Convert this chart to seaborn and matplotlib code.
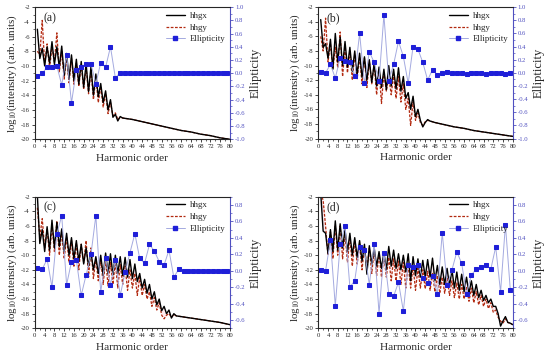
import numpy as np
import matplotlib
matplotlib.use("Agg")
import matplotlib.pyplot as plt
from matplotlib.ticker import MultipleLocator, FormatStrFormatter
from matplotlib.lines import Line2D
import seaborn as sns

# =============================================================
# DATA
# =============================================================
# panel (a)
orders_a = list(range(1, 37)) + [40, 44, 48, 52, 56, 60, 64, 68, 72, 76, 80]
hhgx_a = [-5.0, -9.0, -7.6, -10.0, -7.4, -9.6, -6.7, -9.8, -7.4, -10.2,
          -7.3, -11.3, -8.3, -11.8, -8.5, -12.0, -9.1, -12.5, -9.4, -12.9,
          -9.7, -13.5, -10.1, -14.0, -11.1, -14.2, -12.4, -15.0, -13.4, -16.0,
          -14.6, -17.0, -16.6, -17.5, -16.9, -17.1,
          -17.3, -17.6, -17.9, -18.2, -18.5, -18.8, -19.0, -19.3, -19.5, -19.8, -20.0]
hhgy_a = [-8.0, -8.5, -3.8, -9.8, -7.0, -10.3, -7.5, -9.5, -5.5, -10.8,
          -8.0, -11.8, -8.8, -12.3, -9.0, -12.5, -9.6, -12.8, -9.8, -13.2,
          -10.2, -13.8, -10.6, -14.6, -11.6, -15.0, -12.8, -15.6, -13.8, -16.5,
          -15.0, -16.8, -16.4, -17.3, -17.0, -17.1,
          -17.3, -17.6, -17.9, -18.2, -18.5, -18.8, -19.0, -19.3, -19.5, -19.8, -20.0]
ell_a = [-0.04, 0.00, 0.09, 0.09, 0.11, -0.18, 0.28, -0.45, 0.05, 0.10,
         0.14, 0.14, -0.16, 0.16, 0.09, 0.40, -0.07, 0.01, 0.01, 0.00,
         0.00, 0.00, 0.00, 0.00, 0.00, 0.00, 0.00, 0.00, 0.00, 0.00,
         0.00, 0.00, 0.00, 0.00, 0.00, 0.00, 0.00, 0.00, 0.00, 0.00]

# panel (b)
orders_b = list(range(1, 47)) + [48, 52, 56, 60, 64, 68, 72, 76, 80]
hhgx_b = [-3.7, -7.5, -7.0, -9.0, -6.4, -10.5, -5.6, -9.5, -6.1, -10.0,
          -6.7, -10.2, -7.5, -10.8, -8.0, -11.2, -8.3, -11.6, -8.8, -12.0,
          -9.2, -12.3, -9.7, -12.8, -10.2, -13.0, -10.5, -13.3, -10.0, -12.8,
          -10.5, -13.2, -10.3, -13.5, -11.5, -14.5, -13.7, -16.0, -14.2, -17.0,
          -16.0, -17.5, -18.4, -17.8, -17.4, -17.6,
          -17.8, -18.1, -18.4, -18.6, -18.9, -19.1, -19.3, -19.5, -19.7]
hhgy_b = [-6.0, -8.0, -3.5, -9.5, -7.0, -10.5, -7.5, -10.3, -5.4, -11.5,
          -7.5, -11.0, -8.0, -12.0, -8.5, -11.8, -8.8, -12.5, -9.0, -13.0,
          -9.3, -12.5, -9.8, -14.0, -10.5, -15.2, -11.0, -13.5, -11.5, -14.0,
          -11.2, -14.5, -11.5, -15.0, -12.5, -16.0, -14.5, -18.2, -15.0, -17.5,
          -16.5, -17.8, -18.2, -17.7, -17.5, -17.6,
          -17.8, -18.1, -18.4, -18.6, -18.9, -19.1, -19.3, -19.5, -19.7]
ell_b = [0.01, 0.00, 0.13, -0.08, 0.23, 0.18, 0.17, -0.05, 0.60, -0.16,
         0.32, 0.16, -0.12, 0.88, -0.12, 0.13, 0.48, 0.25, -0.16, 0.40,
         0.36, 0.16, -0.11, 0.05, -0.03, 0.00, 0.01, 0.00, 0.00, 0.00,
         -0.01, 0.00, 0.00, 0.00, -0.01, 0.00, 0.00, 0.00, -0.01, 0.00]

# panel (c)
orders_c = list(range(1, 59)) + [60, 64, 68, 72, 76, 80]
hhgx_c = [-1.8, -8.4, -6.5, -9.5, -6.1, -9.3, -5.2, -9.0, -5.5, -8.8,
          -6.4, -9.5, -7.0, -10.0, -7.6, -10.5, -8.0, -10.8, -8.5, -11.2,
          -9.0, -11.5, -9.6, -12.0, -10.2, -12.5, -10.0, -12.8, -9.7, -12.5,
          -9.8, -12.7, -10.0, -12.5, -10.2, -12.8, -10.3, -13.0, -10.6, -13.2,
          -11.2, -13.6, -12.5, -14.5, -13.3, -15.2, -14.0, -16.0, -15.0, -16.8,
          -16.0, -17.6, -17.0, -18.0, -17.5, -18.6, -18.0, -18.3,
          -18.4, -18.6, -18.8, -19.0, -19.2, -19.5]
hhgy_c = [-3.5, -7.5, -5.0, -9.0, -6.5, -10.0, -6.0, -9.5, -5.3, -10.0,
          -6.8, -10.5, -7.5, -11.0, -8.0, -11.5, -8.3, -12.0, -8.5, -11.0,
          -8.0, -13.0, -9.0, -13.2, -10.5, -13.5, -10.5, -14.0, -10.5, -14.2,
          -11.0, -14.0, -11.0, -14.5, -11.3, -14.0, -11.5, -14.8, -12.0, -14.5,
          -12.5, -15.5, -13.0, -15.5, -14.0, -16.0, -15.0, -17.0, -15.8, -17.5,
          -16.5, -18.2, -18.7, -18.2, -18.0, -18.5, -18.1, -18.3,
          -18.4, -18.6, -18.8, -19.0, -19.2, -19.5]
ell_c = [0.03, 0.02, 0.14, -0.20, 0.45, 0.67, -0.17, 0.11, 0.13, -0.30,
         -0.05, 0.20, 0.67, -0.26, 0.16, -0.17, 0.13, -0.30, -0.02, 0.22,
         0.45, 0.15, 0.09, 0.32, 0.24, 0.11, 0.07, 0.25, -0.08, 0.02,
         0.00, 0.00, 0.00, 0.00, 0.00, 0.00, 0.00, 0.00, 0.00, 0.00]

# panel (d)
orders_d = list(range(1, 81))
hhgx_d = [-1.5, -6.7, -7.0, -9.8, -6.5, -9.5, -5.3, -9.3, -5.7, -9.0,
          -6.5, -9.5, -7.0, -10.0, -7.6, -10.3, -8.0, -10.8, -8.5, -12.6,
          -8.7, -11.2, -9.0, -11.5, -9.5, -11.8, -9.6, -12.0, -8.8, -11.5,
          -9.3, -11.8, -9.8, -12.0, -10.0, -12.3, -9.8, -13.5, -10.2, -12.8,
          -10.5, -13.0, -10.7, -13.0, -10.6, -13.0, -10.4, -13.5, -11.4, -14.0,
          -11.6, -14.0, -11.8, -14.2, -12.0, -14.5, -12.3, -14.8, -12.6, -15.0,
          -13.0, -15.2, -13.5, -15.5, -14.0, -15.8, -14.8, -16.2, -15.5, -16.5,
          -16.0, -17.0, -17.0, -18.0, -19.7, -19.0, -18.4, -19.2, -19.3, -19.5]
hhgy_d = [-1.5, -2.5, -6.0, -10.0, -6.8, -10.5, -6.0, -10.0, -6.0, -10.5,
          -7.0, -11.0, -7.5, -11.5, -8.0, -11.2, -8.5, -12.0, -8.8, -12.0,
          -9.0, -12.5, -9.3, -12.8, -9.8, -13.0, -10.0, -13.0, -10.3, -13.5,
          -10.5, -13.5, -10.8, -14.0, -11.0, -14.5, -11.3, -14.5, -11.5, -14.8,
          -11.8, -14.5, -12.0, -14.6, -12.2, -14.8, -12.5, -15.0, -12.8, -15.2,
          -13.0, -15.2, -13.2, -15.5, -13.5, -15.8, -13.8, -16.0, -14.0, -16.0,
          -14.3, -16.3, -14.5, -16.5, -15.0, -16.8, -15.5, -17.0, -16.0, -17.3,
          -16.5, -17.8, -17.5, -18.5, -19.0, -19.3, -18.7, -19.2, -19.3, -19.5]
ell_d = [0.01, 0.00, 0.37, -0.43, 0.32, 0.55, -0.20, -0.12, 0.29, 0.25,
         -0.17, 0.33, -0.52, 0.22, -0.28, -0.31, -0.14, -0.49, 0.07, 0.05,
         0.07, -0.09, -0.15, -0.06, -0.28, 0.46, -0.17, 0.01, 0.23, 0.09,
         -0.28, -0.05, 0.02, 0.05, 0.07, 0.02, 0.29, -0.26, 0.56, -0.23]

ell_orders = list(range(1, 80, 2))

# =============================================================
# STYLE
# =============================================================
sns.set_style("ticks")
plt.rcParams['font.family'] = ['Liberation Serif', 'DejaVu Serif']
plt.rcParams['mathtext.fontset'] = 'stix'
plt.rcParams['axes.unicode_minus'] = False

BLACK = '#000000'
RED = '#b22a10'
PINK = '#ffd3df'
BLUE_MK = '#1f1fd8'
BLUE_LN = '#a4aae0'
AX_BLUE = '#5050c0'

PANELS = [
    ('(a)', orders_a, hhgx_a, hhgy_a, ell_a, (-1.0, 1.0), [0.0635, 0.612, 0.3545, 0.368]),
    ('(b)', orders_b, hhgx_b, hhgy_b, ell_b, (-1.0, 1.0), [0.5787, 0.614, 0.3535, 0.366]),
    ('(c)', orders_c, hhgx_c, hhgy_c, ell_c, (-0.7, 0.9), [0.0635, 0.0855, 0.3545, 0.3665]),
    ('(d)', orders_d, hhgx_d, hhgy_d, ell_d, (-0.7, 0.9), [0.5787, 0.0855, 0.3535, 0.3665]),
]

fig = plt.figure(figsize=(5.5, 3.59), dpi=100)

for tag, orders, hx, hy, ell, ell_lim, pos in PANELS:
    ax = fig.add_axes(pos)
    ax2 = ax.twinx()

    # faint pink haze between the two spectra
    ax.fill_between(orders, hx, hy, color=PINK, alpha=0.45, lw=0)
    sns.lineplot(x=orders, y=hy, ax=ax, color=RED, lw=0.9,
                 linestyle=(0, (2.2, 1.2)), estimator=None, sort=False)
    sns.lineplot(x=orders, y=hx, ax=ax, color=BLACK, lw=1.0,
                 estimator=None, sort=False)
    sns.lineplot(x=ell_orders, y=ell, ax=ax2, color=BLUE_LN, lw=0.7,
                 marker='s', markersize=3.5, markerfacecolor=BLUE_MK,
                 markeredgecolor=BLUE_MK, estimator=None, sort=False)

    ax.set_xlim(0, 80)
    ax.set_ylim(-20, -2)
    ax2.set_ylim(*ell_lim)
    ax.xaxis.set_major_locator(MultipleLocator(4))
    ax.xaxis.set_minor_locator(MultipleLocator(2))
    ax.yaxis.set_major_locator(MultipleLocator(2))
    ax.yaxis.set_minor_locator(MultipleLocator(1))
    ax2.yaxis.set_major_locator(MultipleLocator(0.2))
    ax2.yaxis.set_minor_locator(MultipleLocator(0.1))
    ax2.yaxis.set_major_formatter(FormatStrFormatter('%.1f'))

    ax.tick_params(axis='both', which='major', labelsize=4.8, length=2.2,
                   width=0.6, pad=1.5, direction='out')
    ax.tick_params(axis='both', which='minor', length=1.2, width=0.5,
                   direction='out')
    ax2.tick_params(axis='y', which='major', labelsize=4.8, length=2.2,
                    width=0.6, pad=1.5, colors=AX_BLUE, direction='out')
    ax2.tick_params(axis='y', which='minor', length=1.2, width=0.5,
                    colors=AX_BLUE, direction='out')
    for sp in ax.spines.values():
        sp.set_linewidth(0.6)
    ax2.spines['right'].set_color(AX_BLUE)
    ax2.spines['right'].set_linewidth(0.8)

    ax.set_xlabel('Harmonic order', fontsize=8.2, labelpad=3)
    ax.set_ylabel('log$_{10}$(intensity) (arb. units)', fontsize=7.8, labelpad=1.5)
    ax2.set_ylabel('Ellipticity', fontsize=9, labelpad=3)

    ax.text(3.4, -3.5, tag, fontsize=8.5, ha='left', va='center')

    for a in (ax, ax2):
        if a.get_legend() is not None:
            a.get_legend().remove()

    handles = [
        Line2D([], [], color=BLACK, lw=1.0),
        Line2D([], [], color=RED, lw=0.9, linestyle=(0, (2.2, 1.2))),
        Line2D([], [], color=BLUE_LN, lw=0.7, marker='s', markersize=3.5,
               markerfacecolor=BLUE_MK, markeredgecolor=BLUE_MK),
    ]
    ax2.legend(handles, ['hhgx', 'hhgy', 'Ellipticity'], loc='upper right',
               frameon=False, fontsize=6.4, handlelength=2.2, handletextpad=0.5,
               labelspacing=0.4, borderaxespad=0.3, borderpad=0.2)

fig.savefig('out.png', dpi=100)
